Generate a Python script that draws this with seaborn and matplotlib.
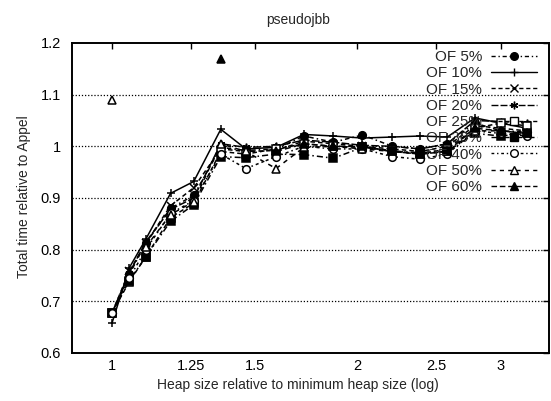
import numpy as np
import pandas as pd
import matplotlib
matplotlib.use("Agg")
import matplotlib.pyplot as plt
from matplotlib.lines import Line2D
from matplotlib.ticker import FixedLocator, NullLocator, FixedFormatter
import seaborn as sns

sns.set_theme(style="white")
plt.rcParams['font.family'] = ['Liberation Sans', 'DejaVu Sans']

nan = np.nan
heap = [1.0, 1.05, 1.1, 1.18, 1.26, 1.36, 1.46, 1.59, 1.72, 1.87, 2.03, 2.21, 2.39, 2.58, 2.79, 3.0, 3.23]

of5 = [0.678, 0.752, 0.812, 0.880, 0.905, 0.998, 0.992, 0.995, 1.020, 1.008, 1.022, 1.000, 0.995, 1.005, 1.045, 1.030, 1.028]
of10 = [0.658, 0.765, 0.820, 0.909, 0.932, 1.033, 0.995, 0.998, 1.023, 1.020, 1.016, 1.018, 1.020, 1.018, 1.055, 1.045, 1.035]
of15 = [0.678, 0.758, 0.812, 0.885, 0.920, 0.995, 0.990, 0.992, 1.010, 1.005, 1.000, 0.995, 0.990, 1.000, 1.040, 1.035, 1.030]
of20 = [0.678, 0.755, 0.815, 0.878, 0.900, 1.005, 0.998, 1.000, 1.012, 1.008, 1.002, 1.000, 0.995, 1.005, 1.050, 1.048, 1.045]
of25 = [0.678, 0.738, 0.786, 0.862, 0.890, 0.990, 0.985, 0.995, 1.005, 1.000, 0.998, 0.992, 0.985, 0.995, 1.035, 1.045, 1.040]
of30 = [0.678, 0.740, 0.786, 0.855, 0.887, 0.980, 0.978, 0.985, 0.984, 0.977, 0.998, 0.990, 0.988, 0.990, 1.025, 1.020, 1.025]
of40 = [0.678, 0.745, 0.800, 0.870, 0.895, 0.985, 0.957, 0.980, 1.000, 0.995, 0.995, 0.980, 0.975, 0.985, 1.030, 1.025, 1.020]
of50 = [1.090, nan, 0.805, 0.868, 0.893, 1.005, 0.990, 0.957, 0.998, 1.000, 0.995, 0.990, 0.985, 0.990, 1.030, 1.030, 1.025]
of60 = [nan, nan, nan, nan, nan, 1.170, nan, 0.990, 1.005, 1.000, 1.000, 0.990, 0.985, 0.990, 1.035, 1.030, 1.025]

labels = ["OF 5%", "OF 10%", "OF 15%", "OF 20%", "OF 25%", "OF 30%", "OF 40%", "OF 50%", "OF 60%"]
series = [of5, of10, of15, of20, of25, of30, of40, of50, of60]

styles = [
    dict(ls=(0, (3, 2, 1, 2)), marker='o', mfc='black'),
    dict(ls='-', marker='+', mfc='black'),
    dict(ls=(0, (3, 2)), marker='x', mfc='black'),
    dict(ls=(0, (5, 1.5)), marker=(6, 2, 0), mfc='black'),
    dict(ls=(0, (3, 2)), marker='s', mfc='white'),
    dict(ls=(0, (4, 2, 1, 2)), marker='s', mfc='black'),
    dict(ls=(0, (2, 2, 1, 2)), marker='o', mfc='white'),
    dict(ls=(0, (3, 3)), marker='^', mfc='white'),
    dict(ls=(0, (4, 2)), marker='^', mfc='black'),
]

fig = plt.figure(figsize=(5.51, 4.01), dpi=100)
ax = fig.add_axes([72/551, 1-353/401, (549-72)/551, (353-43)/401])
ax.set_xscale('log')

for lab, vals, st in zip(labels, series, styles):
    df = pd.DataFrame({"heap": heap, "time": vals})
    mask = df["time"].notna().values
    df["seg"] = np.cumsum(~mask)
    df = df[mask]
    for _, sub in df.groupby("seg"):
        sns.lineplot(data=sub, x="heap", y="time", ax=ax, color='black',
                     linestyle=st['ls'], marker=st['marker'], markersize=5.5,
                     markerfacecolor=st['mfc'], markeredgecolor='black',
                     markeredgewidth=1.1, linewidth=1.1, sort=False,
                     estimator=None, legend=False)

ax.set_xlim(0.893, 3.44)
ax.set_ylim(0.6, 1.2)

xt = [1, 1.25, 1.5, 2, 2.5, 3]
ax.xaxis.set_major_locator(FixedLocator(xt))
ax.xaxis.set_major_formatter(FixedFormatter(["1", "1.25", "1.5", "2", "2.5", "3"]))
ax.xaxis.set_minor_locator(NullLocator())
yt = [0.6, 0.7, 0.8, 0.9, 1.0, 1.1, 1.2]
ax.set_yticks(yt)
ax.set_yticklabels(["0.6", "0.7", "0.8", "0.9", "1", "1.1", "1.2"])

for y in [0.7, 0.8, 0.9, 1.0, 1.1]:
    ax.axhline(y, color='black', linestyle=(0, (1, 1.5)), linewidth=0.9, zorder=0)

ax.tick_params(axis='both', which='major', direction='in', length=4, width=1,
               colors='black', labelsize=10.5, top=True, right=True)
ax.tick_params(axis='x', pad=4)
ax.tick_params(axis='y', pad=8)
for s in ax.spines.values():
    s.set_color('black')
    s.set_linewidth(1.4)
ax.set_xlabel("")
ax.set_ylabel("")
ax.grid(False)

fig.text(298/551, 1-20/401, "pseudojbb", ha='center', va='center', fontsize=10)
fig.text(298/551, 1-385/401, "Heap size relative to minimum heap size (log)",
         ha='center', va='center', fontsize=10)
fig.text(24/551, 1-197/401, "Total time relative to Appel", ha='center', va='center',
         rotation=90, fontsize=10)

handles = [Line2D([], [], color='black', linestyle=st['ls'], marker=st['marker'],
                  markersize=5.5, markerfacecolor=st['mfc'], markeredgecolor='black',
                  linewidth=1.0) for st in styles]
leg = ax.legend(handles, labels, loc='upper right', bbox_to_anchor=(537/551, 1-50/401),
                bbox_transform=fig.transFigure, frameon=False, markerfirst=False,
                fontsize=11, labelspacing=0.15, handlelength=3.0, handletextpad=0.6,
                borderpad=0, borderaxespad=0)
for t in leg.get_texts():
    t.set_ha('right')

fig.savefig("out.png", dpi=100)
